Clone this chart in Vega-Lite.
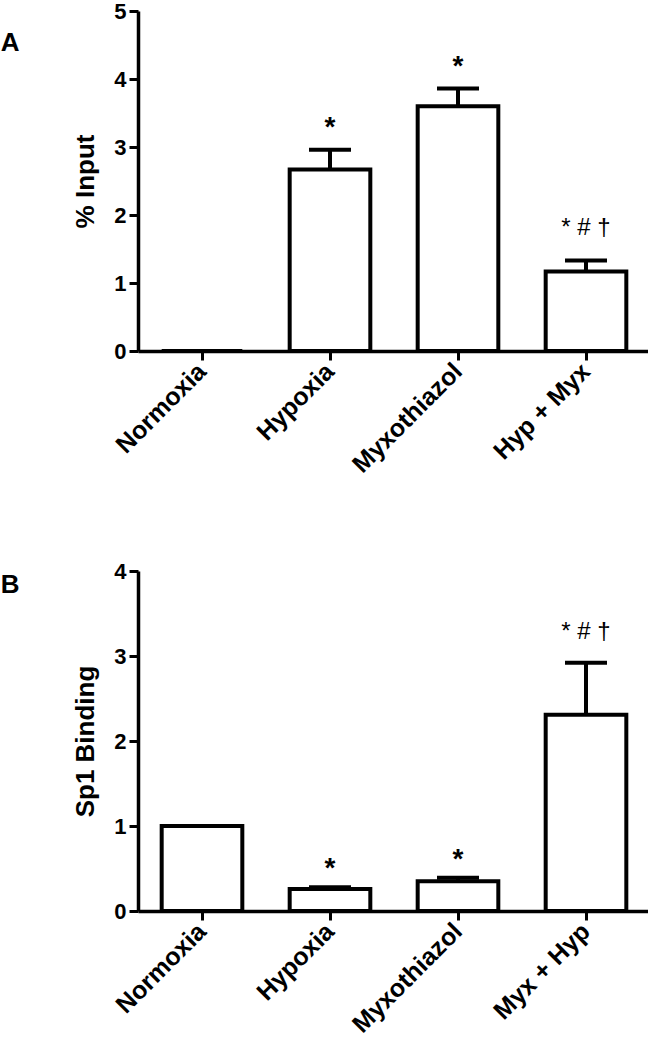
{
  "$schema": "https://vega.github.io/schema/vega-lite/v6.json",
  "padding": {"left": 0, "top": 0, "right": 0, "bottom": 0},
  "background": "white",
  "datasets": {
    "a": [
      {"cond": "Normoxia", "value": 0, "err": 0, "sig": ""},
      {"cond": "Hypoxia", "value": 2.67, "err": 2.96, "sig": "*"},
      {"cond": "Myxothiazol", "value": 3.6, "err": 3.86, "sig": "*"},
      {"cond": "Hyp + Myx", "value": 1.17, "err": 1.33, "sig": "* # †"}
    ],
    "b": [
      {"cond": "Normoxia", "value": 1.0, "err": 1.0, "sig": ""},
      {"cond": "Hypoxia", "value": 0.26, "err": 0.28, "sig": "*"},
      {"cond": "Myxothiazol", "value": 0.35, "err": 0.39, "sig": "*"},
      {"cond": "Myx + Hyp", "value": 2.31, "err": 2.92, "sig": "* # †"}
    ]
  },
  "config": {
    "view": {"stroke": null},
    "font": "Liberation Sans",
    "axis": {
      "domainColor": "black", "domainWidth": 3.5, "tickColor": "black", "tickWidth": 3, "tickSize": 9,
      "labelColor": "black", "labelFont": "Liberation Sans", "labelFontWeight": "bold",
      "titleColor": "black", "titleFont": "Liberation Sans", "titleFontWeight": "bold", "grid": false
    }
  },
  "spacing": 82,
  "vconcat": [
    {
      "width": 512, "height": 340,
      "title": {"text": "A", "anchor": "start", "frame": "bounds", "fontSize": 26, "fontWeight": "bold", "color": "black", "dx": -72, "dy": 56, "offset": 0},
      "data": {"name": "a"},
      "encoding": {
        "x": {"field": "cond", "type": "nominal", "sort": null,
          "scale": {"paddingInner": 0.37, "paddingOuter": 0.185},
          "axis": {"title": null, "labelAngle": -45, "labelAlign": "right", "labelBaseline": "middle", "labelFontSize": 25, "labelPadding": 7, "labelLimit": 300}}
      },
      "layer": [
        {"mark": {"type": "bar", "fill": "white", "stroke": "black", "strokeWidth": 4},
         "encoding": {"y": {"field": "value", "type": "quantitative", "scale": {"domain": [0, 5]},
           "axis": {"title": "% Input", "values": [0, 1, 2, 3, 4, 5], "format": "d", "labelFontSize": 22, "labelPadding": 3, "titleFontSize": 26, "titlePadding": 15}}}},
        {"mark": {"type": "rule", "stroke": "black", "strokeWidth": 4},
         "encoding": {"y": {"field": "value", "type": "quantitative"}, "y2": {"field": "err"}}},
        {"mark": {"type": "tick", "color": "black", "opacity": 1, "size": 42, "thickness": 4},
         "encoding": {"y": {"field": "err", "type": "quantitative"}}},
        {"transform": [{"filter": "datum.sig == '*'"}],
         "mark": {"type": "text", "fontSize": 28, "fontWeight": "bold", "color": "black", "baseline": "alphabetic", "dy": -14},
         "encoding": {"y": {"field": "err", "type": "quantitative"}, "text": {"field": "sig"}}},
        {"transform": [{"filter": "datum.sig == '* # †'"}],
         "mark": {"type": "text", "fontSize": 24, "color": "black", "baseline": "alphabetic", "dy": -26},
         "encoding": {"y": {"field": "err", "type": "quantitative"}, "text": {"field": "sig"}}}
      ]
    },
    {
      "width": 512, "height": 340,
      "title": {"text": "B", "anchor": "start", "frame": "bounds", "fontSize": 26, "fontWeight": "bold", "color": "black", "dx": -72, "dy": 38, "offset": 0},
      "data": {"name": "b"},
      "encoding": {
        "x": {"field": "cond", "type": "nominal", "sort": null,
          "scale": {"paddingInner": 0.37, "paddingOuter": 0.185},
          "axis": {"title": null, "labelAngle": -45, "labelAlign": "right", "labelBaseline": "middle", "labelFontSize": 25, "labelPadding": 7, "labelLimit": 300}}
      },
      "layer": [
        {"mark": {"type": "bar", "fill": "white", "stroke": "black", "strokeWidth": 4},
         "encoding": {"y": {"field": "value", "type": "quantitative", "scale": {"domain": [0, 4]},
           "axis": {"title": "Sp1 Binding", "values": [0, 1, 2, 3, 4], "format": "d", "labelFontSize": 22, "labelPadding": 3, "titleFontSize": 26, "titlePadding": 15}}}},
        {"mark": {"type": "rule", "stroke": "black", "strokeWidth": 4},
         "encoding": {"y": {"field": "value", "type": "quantitative"}, "y2": {"field": "err"}}},
        {"mark": {"type": "tick", "color": "black", "opacity": 1, "size": 42, "thickness": 4},
         "encoding": {"y": {"field": "err", "type": "quantitative"}}},
        {"transform": [{"filter": "datum.sig == '*'"}],
         "mark": {"type": "text", "fontSize": 28, "fontWeight": "bold", "color": "black", "baseline": "alphabetic", "dy": -10},
         "encoding": {"y": {"field": "err", "type": "quantitative"}, "text": {"field": "sig"}}},
        {"transform": [{"filter": "datum.sig == '* # †'"}],
         "mark": {"type": "text", "fontSize": 24, "color": "black", "baseline": "alphabetic", "dy": -24},
         "encoding": {"y": {"field": "err", "type": "quantitative"}, "text": {"field": "sig"}}}
      ]
    }
  ]
}
